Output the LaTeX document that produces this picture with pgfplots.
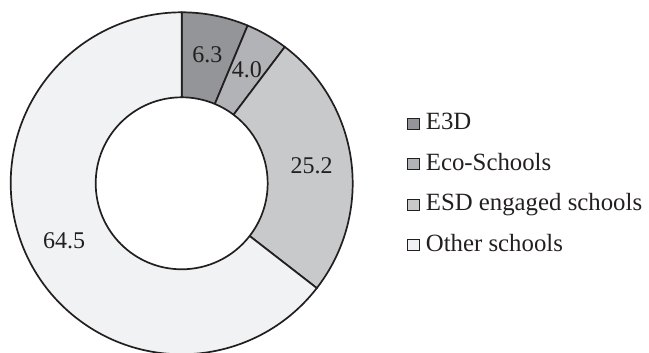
\documentclass[border=0pt]{standalone}
\usepackage{fontspec}
\setmainfont{Liberation Serif}
\usepackage{pgfplots}
\usepackage{pgfplotstable}
\pgfplotsset{compat=1.18}

\definecolor{cEthree}{HTML}{939598}
\definecolor{cEco}{HTML}{B1B3B6}
\definecolor{cESD}{HTML}{C8C9CB}
\definecolor{cOther}{HTML}{F1F2F3}
\definecolor{ink}{HTML}{231F20}

% share of schools, per cent
\pgfplotstableread{
label value
E3D   6.3
Eco   4.0
ESD   25.2
Other 64.5
}\shares

\newcommand\getshare[2]{\pgfplotstablegetelem{#1}{value}\of\shares\edef#2{\pgfplotsretval}}

% ring geometry
\def\rOut{85.5pt}
\def\rIn{43pt}
\def\rLab{65.5pt}

% one ring segment: start angle, end angle, fill colour
\newcommand\ringpart[3]{%
  \filldraw[fill=#3, draw=ink, line width=0.85pt, line join=round]
    ([shift={(#1:\rOut)}]C) arc[start angle=#1, end angle=#2, radius=\rOut]
    -- ([shift={(#2:\rIn)}]C) arc[start angle=#2, end angle=#1, radius=\rIn]
    -- cycle;}

\begin{document}
\begin{tikzpicture}
\getshare{0}\vA \getshare{1}\vB \getshare{2}\vC \getshare{3}\vD
\pgfmathsetmacro\aZero{90}
\pgfmathsetmacro\aOne{\aZero-3.6*\vA}
\pgfmathsetmacro\aTwo{\aOne-3.6*\vB}
\pgfmathsetmacro\aThree{\aTwo-3.6*\vC}
\pgfmathsetmacro\aFour{\aThree-3.6*\vD}
\pgfmathsetmacro\mA{(\aZero+\aOne)/2}
\pgfmathsetmacro\mB{(\aOne+\aTwo)/2}
\pgfmathsetmacro\mC{(\aTwo+\aThree)/2}
\pgfmathsetmacro\mD{(\aThree+\aFour)/2}
\begin{axis}[
  x=0.5pt, y=0.5pt,
  xmin=0, xmax=649, ymin=0, ymax=353,
  hide axis,
  font=\fontsize{12}{14}\selectfont,
  legend image code/.code={%
    \draw[#1, draw=ink, line width=0.5pt] (0.3pt,0.2pt) rectangle (6.3pt,5.8pt);
    \path (7.6pt,0pt);},
  legend style={
    at={(axis cs:407,243)}, anchor=north west,
    draw=none, fill=none, inner sep=0pt,
    row sep=7.1pt,
    font=\fontsize{12.4}{14}\selectfont,
    text=ink,
    nodes={inner sep=1.5pt, anchor=base west},
  },
  legend cell align=left,
]
\coordinate (C) at (axis cs:181.7,169.7);
\ringpart{\aZero}{\aOne}{cEthree}
\ringpart{\aOne}{\aTwo}{cEco}
\ringpart{\aTwo}{\aThree}{cESD}
\ringpart{\aThree}{\aFour}{cOther}
\node[text=ink] at ([shift={(\mA:\rLab)}]C) {\vA};
\node[text=ink] at ([shift={(\mB:\rLab)}]C) {\vB};
\node[text=ink] at ([shift={(\mC:\rLab)}]C) {\vC};
\node[text=ink] at ([shift={(\mD:\rLab)}]C) {\vD};
\addlegendimage{fill=cEthree}\addlegendentry{E3D}
\addlegendimage{fill=cEco}\addlegendentry{Eco-Schools}
\addlegendimage{fill=cESD}\addlegendentry{ESD engaged schools}
\addlegendimage{fill=cOther}\addlegendentry{Other schools}
\end{axis}
\pgfresetboundingbox
\path (current axis.south west) rectangle (current axis.north east);
\end{tikzpicture}
\end{document}
